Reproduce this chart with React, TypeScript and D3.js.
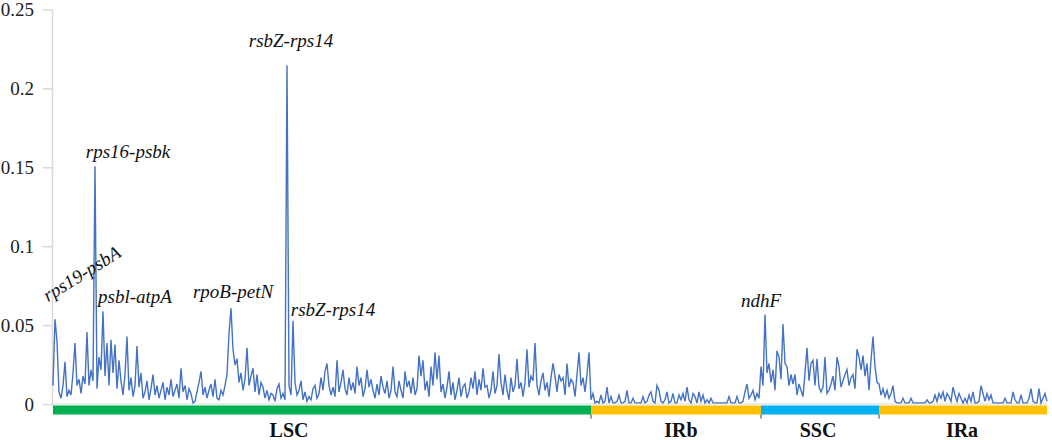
import React from 'react';
import * as d3 from 'd3';

// Pi values along the plastome (one point every ~2px)
const lsc: number[] = [
  0.012,0.054,0.04,0.008,0.004,0.012,0.027,0.005,0.009,0.006,
  0.02,0.039,0.012,0.016,0.007,0.018,0.013,0.046,0.012,0.022,
  0.015,0.151,0.01,0.03,0.022,0.059,0.018,0.039,0.012,0.041,
  0.02,0.038,0.01,0.028,0.015,0.006,0.019,0.043,0.009,0.017,
  0.005,0.012,0.037,0.011,0.02,0.004,0.008,0.015,0.003,0.01,
  0.019,0.006,0.012,0.004,0.009,0.014,0.003,0.011,0.006,0.016,
  0.005,0.009,0.013,0.004,0.023,0.008,0.012,0.003,0.01,0.007,
  0.001,0.002,0.008,0.014,0.021,0.006,0.011,0.004,0.009,0.013,
  0.005,0.016,0.004,0.003,0.009,0.006,0.012,0.019,0.045,0.061,
  0.035,0.025,0.029,0.014,0.02,0.009,0.016,0.036,0.012,0.018,
  0.023,0.008,0.019,0.006,0.014,0.011,0.004,0.009,0.003,0.007,
  0.006,0.002,0.01,0.013,0.004,0.007,0.003,0.215,0.012,0.006,
  0.053,0.014,0.006,0.009,0.015,0.003,0.008,0.002,0.005,0.003,
  0.01,0.012,0.004,0.007,0.017,0.009,0.021,0.026,0.012,0.006,
  0.011,0.005,0.028,0.008,0.014,0.022,0.01,0.006,0.017,0.009,
  0.014,0.007,0.024,0.012,0.017,0.005,0.01,0.022,0.011,0.016,
  0.009,0.004,0.013,0.006,0.018,0.011,0.007,0.015,0.004,0.009,
  0.024,0.008,0.005,0.015,0.009,0.004,0.021,0.011,0.015,0.007,
  0.017,0.006,0.01,0.031,0.018,0.028,0.009,0.015,0.005,0.024,
  0.012,0.033,0.016,0.031,0.008,0.013,0.004,0.011,0.021,0.006,
  0.014,0.003,0.009,0.017,0.005,0.011,0.013,0.004,0.008,0.017,
  0.01,0.021,0.006,0.016,0.009,0.023,0.011,0.012,0.004,0.009,
  0.021,0.007,0.012,0.032,0.014,0.006,0.019,0.009,0.003,0.017,
  0.008,0.012,0.029,0.01,0.014,0.005,0.014,0.035,0.011,0.018,
  0.015,0.039,0.012,0.006,0.015,0.02,0.009,0.014,0.005,0.017,
  0.026,0.018,0.008,0.019,0.015,0.017,0.006,0.026,0.011,0.016,
  0.014,0.005,0.019,0.033,0.012,0.017,0.008,0.019,0.033,
];

const irb: number[] = [
  0.003,0.007,0.001,0.002,0.001,0.006,0.001,0.002,0.011,0.001,
  0.005,0.001,0.001,0.002,0.006,0.001,0.001,0.002,0.009,0.001,
  0.001,0.004,0.001,0.001,0.001,0.001,0.005,0.001,0.002,0.006,
  0.008,0.002,0.001,0.012,0.009,0.002,0.001,0.003,0.008,0.001,
  0.002,0.007,0.001,0.001,0.006,0.003,0.007,0.002,0.011,0.003,
  0.001,0.007,0.005,0.001,0.008,0.002,0.006,0.001,0.003,0.001,
  0.004,0.001,0.001,0.001,0.001,0.001,0.001,0.001,0.001,0.005,
  0.001,0.001,0.001,0.005,0.001,0.001,0.002,0.008,0.013,0.004,
  0.006,0.009,0.003,0.007,0.004,
];

const ssc: number[] = [
  0.024,0.012,0.057,0.02,0.026,0.014,0.022,0.009,0.034,0.03,
  0.016,0.051,0.026,0.024,0.012,0.019,0.013,0.019,0.006,0.013,
  0.009,0.005,0.02,0.036,0.015,0.026,0.028,0.012,0.029,0.011,
  0.008,0.011,0.03,0.007,0.009,0.013,0.018,0.009,0.03,0.024,
  0.011,0.015,0.019,0.022,0.012,0.017,0.019,0.01,0.035,0.03,
  0.022,0.031,0.018,0.026,0.009,0.028,0.043,0.024,0.014,
];

const ira: number[] = [
  0.013,0.006,0.01,0.005,0.009,0.004,0.007,0.012,0.002,0.001,
  0.001,0.001,0.004,0.001,0.001,0.001,0.004,0.001,0.001,0.001,
  0.001,0.001,0.001,0.001,0.003,0.001,0.001,0.002,0.006,0.002,
  0.007,0.004,0.008,0.002,0.007,0.005,0.002,0.011,0.006,0.002,
  0.007,0.004,0.001,0.004,0.001,0.006,0.002,0.008,0.001,0.001,
  0.002,0.012,0.007,0.002,0.007,0.003,0.006,0.001,0.001,0.001,
  0.001,0.001,0.001,0.004,0.001,0.001,0.001,0.008,0.003,0.001,
  0.001,0.006,0.001,0.001,0.001,0.004,0.01,0.002,0.001,0.001,
  0.01,0.001,0.004,0.007,0.002,
];

const regionNames = ['LSC', 'IRb', 'SSC', 'IRa'];
const regionSeries = [lsc, irb, ssc, ira];
const yTicks = [0, 0.05, 0.1, 0.15, 0.2, 0.25];

// annotation: text, region, local index of the peak it labels
const annotationTexts = ['rps19-psbA', 'rps16-psbk', 'psbl-atpA', 'rpoB-petN', 'rsbZ-rps14', 'rsbZ-rps14', 'ndhF'];
const annotationRegion = [0, 0, 0, 0, 0, 0, 2];
const annotationIndex = [1, 21, 25, 89, 117, 120, 2];

// styling / placement (not data)
const W = 1052;
const H = 440;
const regionColors = ['#00B050', '#FFC000', '#00B0F0', '#FFC000'];
const regionLabelDx = [-33, 5, -2, -1];
const annStyle = [
  { dx: -7, dy: -17, rotate: -32, anchor: 'start' },
  { dx: 33, dy: -8, rotate: 0, anchor: 'middle' },
  { dx: 32, dy: -8, rotate: 0, anchor: 'middle' },
  { dx: 2, dy: -10, rotate: 0, anchor: 'middle' },
  { dx: 4, dy: -18, rotate: 0, anchor: 'middle' },
  { dx: 40, dy: -5, rotate: 0, anchor: 'middle' },
  { dx: -4, dy: -8, rotate: 0, anchor: 'middle' },
];

const SERIF = "'Times New Roman', Times, 'Liberation Serif', Tinos, 'DejaVu Serif', 'Noto Serif', FreeSerif, serif";

export default function App() {
  const all = regionSeries.flat();
  const N = all.length;
  const x = d3.scaleLinear().domain([0, N - 1]).range([53, 1047]);
  const y = d3.scaleLinear().domain([0, 0.25]).range([404.5, 10]);
  const line = d3
    .line<number>()
    .x((_, i) => x(i))
    .y((d) => y(d));

  const offsets: number[] = [];
  let acc = 0;
  regionSeries.forEach((s) => {
    offsets.push(acc);
    acc += s.length;
  });
  const regions = regionSeries.map((s, k) => {
    const start = offsets[k];
    const end = Math.min(start + s.length, N - 1);
    return { name: regionNames[k], x0: x(start), x1: x(end), color: regionColors[k] };
  });

  const textStyle = { fontFamily: SERIF };

  return (
    <svg
      width={W}
      height={H}
      style={{ position: 'absolute', left: 0, top: 0, background: '#fff', fontFamily: SERIF }}
    >
      {/* y axis */}
      <line x1={52.5} x2={52.5} y1={y(0.25)} y2={y(0) + 1} stroke="#d9d9d9" strokeWidth={1.5} />
      {yTicks.map((t) => (
        <g key={t}>
          <line x1={43} x2={52.5} y1={y(t)} y2={y(t)} stroke="#d9d9d9" strokeWidth={1.5} />
          <text x={34} y={y(t)} dy="0.33em" textAnchor="end" fontSize={19} fill="#222" style={textStyle}>
            {String(t)}
          </text>
        </g>
      ))}
      {/* baseline */}
      <line x1={x(0)} x2={x(N - 1)} y1={y(0) - 0.5} y2={y(0) - 0.5} stroke="#d9d9d9" strokeWidth={1} />
      {/* data line */}
      <path d={line(all) || ''} fill="none" stroke="#4472C4" strokeWidth={1.4} strokeLinejoin="miter" />
      {/* region bars */}
      {regions.map((r, k) => (
        <rect key={k} x={r.x0} y={405.5} width={r.x1 - r.x0} height={9} fill={r.color} />
      ))}
      {regions.slice(1).map((r, k) => (
        <line key={k} x1={r.x0} x2={r.x0} y1={414.5} y2={418.5} stroke="#333" strokeWidth={1} />
      ))}
      {regions.map((r, k) => (
        <text
          key={k}
          x={(r.x0 + r.x1) / 2 + regionLabelDx[k]}
          y={437}
          textAnchor="middle"
          fontSize={20}
          fontWeight="bold"
          fill="#111"
          style={textStyle}
        >
          {r.name}
        </text>
      ))}
      {/* annotations */}
      {annotationTexts.map((t, k) => {
        const gi = offsets[annotationRegion[k]] + annotationIndex[k];
        const px = x(gi) + annStyle[k].dx;
        const py = y(all[gi]) + annStyle[k].dy;
        return (
          <text
            key={k}
            x={px}
            y={py}
            textAnchor={annStyle[k].anchor as any}
            fontSize={19}
            fontStyle="italic"
            fill="#111"
            style={textStyle}
            transform={annStyle[k].rotate ? `rotate(${annStyle[k].rotate} ${px} ${py})` : undefined}
          >
            {t}
          </text>
        );
      })}
    </svg>
  );
}
